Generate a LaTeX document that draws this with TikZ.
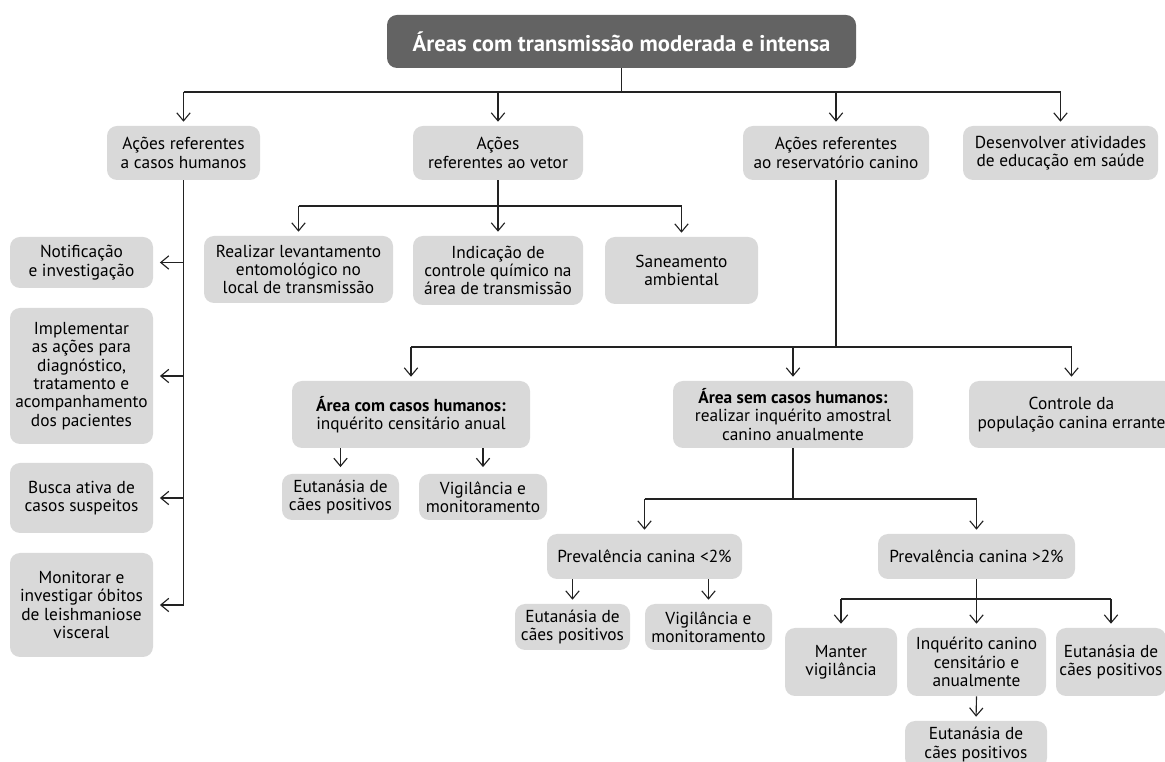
\documentclass[tikz,border=0pt]{standalone}
\usepackage{fontspec}
\setmainfont{PT Sans}
\usetikzlibrary{arrows.meta}
\definecolor{boxgray}{HTML}{D9D9D9}
\definecolor{titlegray}{HTML}{636363}
\definecolor{linec}{HTML}{222222}
\tikzset{
 box/.style={fill=boxgray, rounded corners=7.5pt, inner sep=0pt, align=center, font=\fontsize{13}{13.75}\selectfont},
 titlebox/.style={box, fill=titlegray, text=white, font=\fontsize{17}{19}\selectfont\bfseries},
 conn/.style={draw=linec, line width=0.85pt},
 arr/.style={conn, -{Straight Barb[length=6pt,width=10pt,line width=0.85pt]}, shorten >=3pt},
}
% \mybox[style]{name}{x1}{y1}{x2}{y2}{text}  (pixel coordinates)
\newcommand\mybox[7][box]{\node[#1, minimum width={(#5-#3)*0.75pt}, minimum height={(#6-#4)*0.75pt}] (#2) at ({(#3+#5)/2},{(#4+#6)/2}) {#7};}
\begin{document}
\begin{tikzpicture}[x=0.75pt,y=-0.75pt]
\useasboundingbox (0,0) rectangle (1165,762);
\clip (0,0) rectangle (1165,762);
% nodes
\mybox[titlebox]{T}{387}{15}{856}{68}{Áreas com transmissão moderada e intensa}
\mybox{A1}{107}{126}{260}{180}{Ações referentes\\a casos humanos}
\mybox{A2}{413}{126}{583}{180}{Ações\\referentes ao vetor}
\mybox{A3}{743}{126}{929}{180}{Ações referentes\\ao reservatório canino}
\mybox{A4}{963}{126}{1158}{180}{Desenvolver atividades\\de educação em saúde}
\mybox{L1}{10}{237}{153}{288}{Notificação\\e investigação}
\mybox{L2}{10}{308}{153}{444}{Implementar\\as ações para\\diagnóstico,\\tratamento e\\acompanhamento\\dos pacientes}
\mybox{L3}{10}{463}{153}{533}{Busca ativa de\\casos suspeitos}
\mybox{L4}{10}{553}{153}{657}{Monitorar e\\investigar óbitos\\de leishmaniose\\visceral}
\mybox{R1}{204}{236}{393}{303}{Realizar levantamento\\entomológico no\\local de transmissão}
\mybox{R2}{413}{236}{583}{305}{Indicação de\\controle químico na\\área de transmissão}
\mybox{R3}{605}{237}{758}{304}{Saneamento\\ambiental}
\mybox{C1}{292}{381}{530}{448}{\textbf{Área com casos humanos:}\\inquérito censitário anual}
\mybox{C2}{673}{381}{913}{448}{\textbf{Área sem casos humanos:}\\realizar inquérito amostral\\canino anualmente}
\mybox{C3}{969}{381}{1174}{448}{Controle da\\população canina errante}
\mybox{E1}{282}{474}{399}{520}{Eutanásia de\\cães positivos}
\mybox{V1}{419}{474}{547}{520}{Vigilância e\\monitoramento}
\mybox{P1}{547}{534}{742}{579}{Prevalência canina <2\%}
\mybox{P2}{878}{534}{1075}{579}{Prevalência canina >2\%}
\mybox{E2}{515}{604}{630}{650}{Eutanásia de\\cães positivos}
\mybox{V2}{645}{604}{772}{650}{Vigilância e\\monitoramento}
\mybox{M}{785}{628}{897}{696}{Manter\\vigilância}
\mybox{I}{907}{628}{1046}{696}{Inquérito canino\\censitário e\\anualmente}
\mybox{E3}{1056}{628}{1166}{696}{Eutanásia de\\cães positivos}
\mybox{E4}{905}{721}{1047}{768}{Eutanásia de\\cães positivos}
% bus coordinates
\coordinate (bus1) at (0,92);
\coordinate (bus2) at (0,206);
\coordinate (bus3) at (0,347);
\coordinate (bus4) at (0,499);
\coordinate (bus5) at (0,599);
% title level
\draw[conn] (T.south) -- (T.south |- bus1);
\draw[conn] (A1.north |- bus1) -- (A4.north |- bus1);
\foreach \n in {A1,A2,A3,A4} \draw[arr] (\n.north |- bus1) -- (\n.north);
% human cases
\draw[conn] (A1.south) -- (A1.south |- L4.east);
\foreach \n in {L1,L2,L3,L4} \draw[arr, shorten >=5pt] (A1.south |- \n.east) -- (\n.east);
% vector
\draw[conn] (A2.south) -- (A2.south |- bus2);
\draw[conn] (R1.north |- bus2) -- (R3.north |- bus2);
\foreach \n in {R1,R2,R3} \draw[arr] (\n.north |- bus2) -- (\n.north);
% reservoir
\draw[conn] (A3.south) -- (A3.south |- bus3);
\draw[conn] (C1.north |- bus3) -- (C3.north |- bus3);
\foreach \n in {C1,C2,C3} \draw[arr] (\n.north |- bus3) -- (\n.north);
\draw[arr, shorten >=5pt] (C1.south -| E1.north) -- (E1.north);
\draw[arr, shorten >=5pt] (C1.south -| V1.north) -- (V1.north);
\draw[conn] (C2.south) -- (C2.south |- bus4);
\draw[conn] (P1.north |- bus4) -- (P2.north |- bus4);
\foreach \n in {P1,P2} \draw[arr] (\n.north |- bus4) -- (\n.north);
\draw[arr] (P1.south -| E2.north) -- (E2.north);
\draw[arr] (P1.south -| V2.north) -- (V2.north);
\draw[conn] (P2.south) -- (P2.south |- bus5);
\draw[conn] (M.north |- bus5) -- (E3.north |- bus5);
\foreach \n in {M,I,E3} \draw[arr] (\n.north |- bus5) -- (\n.north);
\draw[arr] (I.south) -- (E4.north);
\end{tikzpicture}
\end{document}
